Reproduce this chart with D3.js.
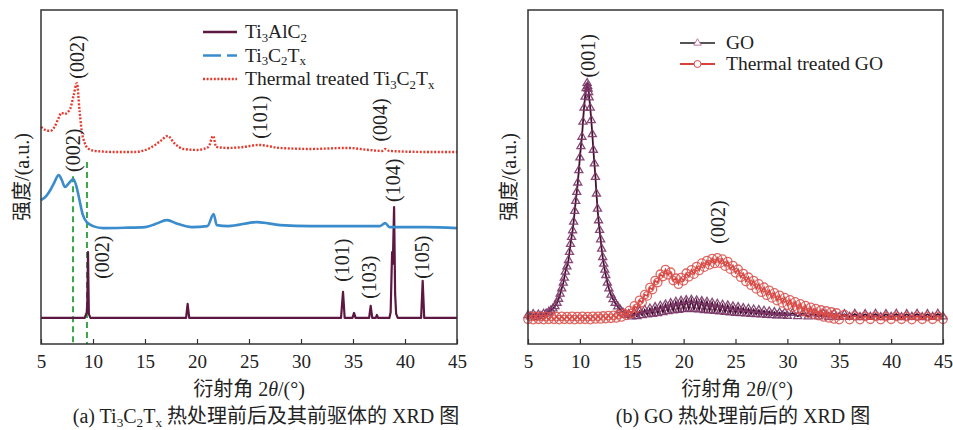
<!DOCTYPE html>
<html><head><meta charset="utf-8">
<script src="https://cdn.jsdelivr.net/npm/d3@7"></script>
<style>
body{margin:0;background:#fff;}
svg{display:block;}
text{font-family:"Liberation Serif","Times New Roman","Noto Sans CJK SC",serif;fill:#222;}
</style></head>
<body>
<svg id="c" width="953" height="430"></svg>
<script>
// ---------------- DATA ----------------
const xTicks = [5,10,15,20,25,30,35,40,45];
const yTitle = "强度/(a.u.)";

// Panel (a): [2θ, intensity (a.u., stacked as shown)]
const ti3alc2 = [[5,7.8],[9.2,7.8],[9.4,9.5],[9.45,12],[9.52,27.5],[9.6,9.0],[9.75,7.8],[18.95,7.8],[19.1,12.0],[19.25,7.8],
 [33.85,7.8],[34.04,15.6],[34.2,7.8],[34.95,7.8],[35.1,9.3],[35.25,7.8],[36.55,7.8],[36.7,11.4],[36.85,7.8],[37.2,7.8],[37.3,8.7],[37.4,7.8],
 [38.5,7.8],[38.62,9.5],[38.7,20],[38.76,27.5],[38.83,24],[38.95,41.0],[39.05,15],[39.15,9],[39.3,7.8],[41.55,7.8],[41.7,18.9],[41.85,7.8],[45,7.8]];
const ti3c2tx = [[5.0,43.1],[5.5,44.3],[5.9,46.1],[6.3,48.5],[6.7,50.6],[7.0,49.1],[7.3,47.0],[7.7,48.2],[8.1,49.4],[8.4,47.3],[8.7,43.1],
 [9.0,38.9],[9.4,36.5],[10.0,35.3],[11,34.7],[13,34.8],[15,35.0],[16,35.9],[17.1,37.1],[18.2,35.9],[19.5,35.0],[21.0,35.3],[21.6,38.9],
 [21.9,35.6],[23,35.3],[25.8,36.5],[28,35.6],[31,35.3],[35,35.3],[37.6,35.3],[38.1,36.2],[38.5,35.0],[42,35.0],[45,34.7]];
const thermalTi3c2tx = [[5.0,65.0],[5.4,64.1],[5.9,63.8],[6.3,65.0],[6.7,67.7],[6.95,69.2],[7.3,68.9],[7.8,70.4],[8.15,74.6],[8.45,78.1],
 [8.7,70.1],[8.9,64.1],[9.2,60.2],[9.6,58.4],[10.2,57.8],[12,57.5],[14,57.5],[15.5,58.7],[16.5,60.8],[17.2,62.3],[17.8,60.2],[18.7,58.4],
 [20,58.1],[21.1,59.0],[21.55,62.3],[21.85,59.0],[23,58.7],[24.5,59.0],[25.9,59.6],[28,58.7],[31,58.4],[34.5,58.7],[36.5,58.1],[37.8,57.8],
 [38.1,58.4],[38.5,57.8],[42,57.5],[45,57.5]];
const refLines = [[8.08,50.2],[9.42,54.5]];   // green dashed reference lines: [2θ, top intensity]
const labelsA = [
 {t:"(002)",x:8.45,y:85.9},{t:"(002)",x:8.1,y:58},{t:"(002)",x:10.85,y:26},{t:"(101)",x:26.05,y:67.9},{t:"(004)",x:37.6,y:67.1},
 {t:"(104)",x:38.85,y:49},{t:"(101)",x:33.95,y:25.1},{t:"(103)",x:36.55,y:20},{t:"(105)",x:41.63,y:26}];

// Panel (b)
const go = [[5.00,8.6],[5.25,8.2],[5.50,8.9],[5.75,8.1],[6.00,8.8],[6.25,8.3],[6.50,9.0],[6.75,9.1],[7.00,9.6],[7.20,10.0],[7.40,10.6],[7.60,11.3],
 [7.80,12.3],[7.95,13.5],[8.10,15.0],[8.25,16.6],[8.40,18.3],[8.50,19.8],[8.60,21.6],[8.75,23.2],[8.90,25.1],[9.00,27.5],[9.10,29.9],[9.20,32.0],
 [9.30,34.0],[9.40,36.6],[9.50,39.8],[9.60,42.8],[9.70,45.5],[9.80,48.3],[9.90,52.0],[10.00,55.8],[10.10,59.2],[10.20,62.0],[10.30,66.5],[10.40,70.7],
 [10.50,74.0],[10.60,76.6],[10.70,78.1],[10.75,77.2],[10.80,76.4],[10.85,75.4],[10.90,73.8],[11.00,70.7],[11.10,67.0],[11.20,62.8],[11.30,58.1],
 [11.40,54.0],[11.50,50.0],[11.60,45.0],[11.70,40.5],[11.80,37.0],[11.90,34.1],[12.00,31.3],[12.10,28.5],[12.20,26.0],[12.30,24.0],[12.40,22.2],
 [12.50,20.6],[12.65,18.3],[12.80,16.6],[13.00,14.7],[13.20,13.4],[13.40,12.3],[13.65,11.2],[13.90,10.2],[14.15,9.4],[14.40,8.7],[14.70,8.9],[15.00,8.2],
 [15.25,9.3],[15.50,8.3],[15.75,9.8],[16.00,8.6],[16.25,10.2],[16.50,8.8],[16.75,10.6],[17.00,9.0],[17.25,11.0],[17.50,9.2],[17.75,11.4],[18.00,9.5],
 [18.25,11.8],[18.50,9.8],[18.75,12.2],[19.00,10.0],[19.25,12.6],[19.50,10.2],[19.75,12.9],[20.00,10.4],[20.25,13.1],[20.50,10.5],[20.75,13.2],
 [21.00,10.4],[21.25,13.0],[21.50,10.3],[21.75,12.8],[22.00,10.1],[22.25,12.6],[22.50,10.0],[22.75,12.3],[23.00,9.9],[23.25,12.0],[23.50,9.7],
 [23.75,11.7],[24.00,9.6],[24.25,11.5],[24.50,9.4],[24.75,11.2],[25.00,9.3],[25.25,11.0],[25.50,9.2],[25.75,10.7],[26.00,9.1],[26.25,10.5],[26.50,9.0],
 [26.75,10.3],[27.00,8.9],[27.25,10.1],[27.50,8.8],[27.75,9.9],[28.00,8.7],[28.25,9.7],[28.50,8.6],[28.75,9.5],[29.00,8.5],[29.25,9.4],[29.50,8.5],
 [29.75,9.3],[30.00,8.4],[30.50,9.3],[31.00,8.3],[31.50,9.2],[32.00,8.2],[32.50,9.1],[33.00,8.2],[33.50,9.0],[34.00,8.1],[34.50,9.0],[35.00,8.1],
 [35.50,8.9],[36.00,8.1],[36.50,9.0],[37.00,8.0],[37.50,8.9],[38.00,8.1],[38.50,9.0],[39.00,8.0],[39.50,8.9],[40.00,8.1],[40.50,9.0],[41.00,8.0],
 [41.50,8.9],[42.00,8.1],[42.50,9.0],[43.00,8.0],[43.50,8.9],[44.00,8.1],[44.50,9.0],[45.00,8.2]];
const thermalGo = [[5.00,7.4],[5.25,8.3],[5.50,7.3],[5.75,8.2],[6.00,7.4],[6.25,8.3],[6.50,7.3],[6.75,8.2],[7.00,7.4],[7.25,8.3],[7.50,7.4],[7.75,8.2],
 [8.00,7.3],[8.25,8.3],[8.50,7.4],[8.75,8.2],[9.00,7.4],[9.25,8.3],[9.50,7.3],[9.75,8.2],[10.00,7.4],[10.25,8.3],[10.50,7.4],[10.75,8.2],[11.00,7.3],
 [11.25,8.3],[11.50,7.5],[11.75,8.3],[12.00,7.5],[12.25,8.4],[12.50,7.6],[12.75,8.5],[13.00,7.7],[13.25,8.6],[13.50,7.8],[13.75,8.8],[14.00,8.1],
 [14.25,9.2],[14.50,8.6],[14.75,10.0],[15.00,9.2],[15.25,11.4],[15.50,10.7],[15.75,13.1],[16.00,12.4],[16.25,14.8],[16.50,14.4],[16.75,16.9],[17.00,16.3],
 [17.25,19.0],[17.50,18.4],[17.75,20.9],[18.00,20.2],[18.25,22.3],[18.50,20.7],[18.75,21.5],[19.00,19.0],[19.25,19.7],[19.50,17.9],[19.75,19.9],
 [20.00,18.9],[20.25,21.2],[20.50,20.1],[20.75,22.2],[21.00,20.9],[21.25,23.2],[21.50,22.0],[21.75,24.2],[22.00,23.0],[22.25,25.0],[22.50,23.7],
 [22.75,25.6],[23.00,24.1],[23.25,25.8],[23.50,24.2],[23.75,25.4],[24.00,23.3],[24.25,24.7],[24.50,22.4],[24.75,23.5],[25.00,21.3],[25.25,22.4],
 [25.50,20.0],[25.75,21.1],[26.00,18.7],[26.25,20.0],[26.50,17.6],[26.75,19.0],[27.00,16.5],[27.25,18.0],[27.50,15.5],[27.75,17.0],[28.00,14.6],
 [28.25,16.1],[28.50,13.8],[28.75,15.3],[29.00,13.0],[29.25,14.6],[29.50,12.3],[29.75,13.9],[30.00,11.6],[30.25,13.2],[30.50,11.0],[30.75,12.6],
 [31.00,10.4],[31.25,12.0],[31.50,9.8],[31.75,11.5],[32.00,9.3],[32.25,11.0],[32.50,8.9],[32.75,10.6],[33.00,8.5],[33.25,10.2],[33.50,8.1],[33.75,9.9],
 [34.00,7.8],[34.25,9.6],[34.50,7.5],[34.75,9.3],[35.00,7.3],[35.50,8.8],[36.00,7.3],[36.50,8.4],[37.00,7.3],[37.50,8.3],[38.00,7.4],[38.50,8.3],
 [39.00,7.3],[39.50,8.2],[40.00,7.4],[40.50,8.3],[41.00,7.4],[41.50,8.2],[42.00,7.3],[42.50,8.3],[43.00,7.4],[43.50,8.2],[44.00,7.4],[44.50,8.3],[45.00,7.4]];
const labelsB = [{t:"(001)",x:10.78,y:86.3},{t:"(002)",x:23.3,y:36.5}];

// legend / caption text parts
const legendA = [
 [{t:"Ti"},{t:"3",s:1},{t:"AlC"},{t:"2",s:1}],
 [{t:"Ti"},{t:"3",s:1},{t:"C"},{t:"2",s:1},{t:"T"},{t:"x",s:1}],
 [{t:"Thermal treated Ti"},{t:"3",s:1},{t:"C"},{t:"2",s:1},{t:"T"},{t:"x",s:1}]];
const legendB = ["GO","Thermal treated GO"];
const captionA = [{t:"(a) Ti"},{t:"3",s:1},{t:"C"},{t:"2",s:1},{t:"T"},{t:"x",s:1},{t:" 热处理前后及其前驱体的 XRD 图"}];
const captionB = [{t:"(b) GO 热处理前后的 XRD 图"}];

// ---------------- DRAW ----------------
const svg = d3.select("#c");
const C = {maroon:"#5c1840", blue:"#3a8ccc", red:"#e63b2e", green:"#3aa64a", goLine:"#45102f", goMark:"#7a3566", tgLine:"#d8423d", tgMark:"#d9504b", frame:"#333"};
const plotTop = 10, plotBottom = 344;
const fs = 20, legFs = 19.5;

function rich(sel, parts, size){
  let shift = 0;
  parts.forEach(p=>{
    const ts = sel.append("tspan").text(p.t);
    const want = p.s ? size*0.2 : 0;
    if (want !== shift){ ts.attr("dy", want - shift); shift = want; }
    if (p.s) ts.attr("font-size", size*0.66);
  });
}

function panel(x0, x1, cx){
  const g = svg.append("g");
  const x = d3.scaleLinear().domain([5,45]).range([x0,x1]);
  const y = d3.scaleLinear().domain([0,100]).range([plotBottom,plotTop]);
  const ax = g.append("g").attr("transform",`translate(0,${plotBottom})`)
    .call(d3.axisBottom(x).tickValues(xTicks).tickSizeInner(-5).tickSizeOuter(0).tickPadding(11));
  ax.select(".domain").remove();
  ax.selectAll(".tick line").attr("stroke",C.frame).attr("stroke-width",1.2);
  ax.selectAll(".tick text").attr("font-size",19).attr("fill","#222")
    .attr("font-family",'"Liberation Serif","Times New Roman",serif');
  const xt = g.append("text").attr("x",cx).attr("y",396).attr("text-anchor","middle").attr("font-size",fs);
  xt.append("tspan").text("衍射角 2");
  xt.append("tspan").attr("font-style","italic").text("θ");
  xt.append("tspan").text("/(°)");
  g.append("text").attr("transform",`translate(${x0-19},177) rotate(-90)`).attr("text-anchor","middle")
    .attr("dominant-baseline","central").attr("font-size",fs).text(yTitle);
  return {g,x,y,x0,x1};
}
function frame(P){
  P.g.append("rect").attr("x",P.x0).attr("y",plotTop).attr("width",P.x1-P.x0).attr("height",plotBottom-plotTop)
    .attr("fill","none").attr("stroke",C.frame).attr("stroke-width",1.5);
}
function vlabel(P, l){
  P.g.append("text").attr("transform",`translate(${P.x(l.x)},${P.y(l.y)}) rotate(-90)`)
    .attr("text-anchor","middle").attr("dominant-baseline","central").attr("font-size",fs).text(l.t);
}

// ---- Panel A
const A = panel(41, 457, 249);
const lineA = d3.line().x(d=>A.x(d[0])).y(d=>A.y(d[1]));
A.g.selectAll(".ref").data(refLines).join("line")
  .attr("x1",d=>A.x(d[0])).attr("x2",d=>A.x(d[0])).attr("y1",d=>A.y(d[1])).attr("y2",plotBottom)
  .attr("stroke",C.green).attr("stroke-width",2).attr("stroke-dasharray","6,4");
A.g.append("path").datum(ti3alc2).attr("d",lineA).attr("fill","none").attr("stroke",C.maroon).attr("stroke-width",2.2).attr("stroke-linejoin","round");
A.g.append("path").datum(ti3c2tx).attr("d",lineA.curve(d3.curveMonotoneX)).attr("fill","none").attr("stroke",C.blue).attr("stroke-width",2.6);
A.g.append("path").datum(thermalTi3c2tx).attr("d",lineA.curve(d3.curveMonotoneX)).attr("fill","none").attr("stroke",C.red).attr("stroke-width",2.4).attr("stroke-dasharray","2,1.6");
labelsA.forEach(l=>vlabel(A,l));
frame(A);
const legStyles = [{c:C.maroon,d:null},{c:C.blue,d:"18,6"},{c:C.red,d:"2,1.6"}];
legendA.forEach((parts,i)=>{
  const yy = 32 + i*23.5;
  A.g.append("line").attr("x1",203).attr("x2",237).attr("y1",yy).attr("y2",yy)
    .attr("stroke",legStyles[i].c).attr("stroke-width",2.6).attr("stroke-dasharray",legStyles[i].d);
  const t = A.g.append("text").attr("x",245).attr("y",yy+6).attr("font-size",legFs);
  rich(t, parts, legFs);
});
const capA = A.g.append("text").attr("x",266).attr("y",423).attr("text-anchor","middle").attr("font-size",fs);
rich(capA, captionA, fs);

// ---- Panel B
const B = panel(528, 943, 737);
const lineB = d3.line().x(d=>B.x(d[0])).y(d=>B.y(d[1]));
const tri = d3.symbol().type(d3.symbolTriangle).size(28);
B.g.append("path").datum(go).attr("d",lineB).attr("fill","none").attr("stroke",C.goLine).attr("stroke-width",1.8);
B.g.selectAll(".gom").data(go).join("path").attr("d",tri)
  .attr("transform",d=>`translate(${B.x(d[0])},${B.y(d[1])})`)
  .attr("fill","none").attr("stroke",C.goMark).attr("stroke-width",1.3).attr("stroke-opacity",0.9);
B.g.append("path").datum(thermalGo).attr("d",lineB).attr("fill","none").attr("stroke",C.tgLine).attr("stroke-width",1.6);
B.g.selectAll(".tgm").data(thermalGo).join("circle")
  .attr("cx",d=>B.x(d[0])).attr("cy",d=>B.y(d[1])).attr("r",4.2)
  .attr("fill","none").attr("stroke",C.tgMark).attr("stroke-width",1.3).attr("stroke-opacity",0.85);
labelsB.forEach(l=>vlabel(B,l));
frame(B);
legendB.forEach((name,i)=>{
  const yy = 43 + i*21;
  const lc = i===0 ? "#555" : C.tgLine;
  B.g.append("line").attr("x1",680).attr("x2",715).attr("y1",yy).attr("y2",yy).attr("stroke",lc).attr("stroke-width",2);
  if(i===0){
    B.g.append("path").attr("d",d3.symbol().type(d3.symbolTriangle).size(24)).attr("transform",`translate(697.5,${yy})`).attr("fill","#fff").attr("stroke","#c07aa0").attr("stroke-width",1);
  } else {
    B.g.append("circle").attr("cx",697.5).attr("cy",yy).attr("r",3.5).attr("fill","#fff").attr("stroke",C.tgMark).attr("stroke-width",1);
  }
  B.g.append("text").attr("x",726).attr("y",yy+6).attr("font-size",legFs).text(name);
});
const capB = B.g.append("text").attr("x",743).attr("y",423).attr("text-anchor","middle").attr("font-size",fs);
rich(capB, captionB, fs);
</script>
</body></html>
